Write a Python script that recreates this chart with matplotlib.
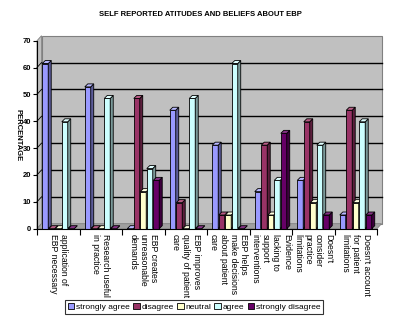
import numpy as np
import matplotlib
matplotlib.use("Agg")
import matplotlib.pyplot as plt
from matplotlib.patches import Polygon, Rectangle, Patch

plt.rcParams['font.family'] = ['Liberation Sans', 'DejaVu Sans']

categories = [
    "application of\nEBP necessary",
    "Research useful\nin practice",
    "EBP creates\nunreasonable\ndemands",
    "EBP improves\nquality of patient\ncare",
    "EBP helps\nmake decisions\nabout patient\ncare",
    "Evidence\nlacking to\nsupport\ninterventions",
    "Doesn't\nconsider\npractice\nlimitations",
    "Doesn't account\nfor patient\nlimitations",
]
series_names = ["strongly agree", "disagree", "neutral", "agree", "strongly disagree"]
strongly_agree = [61.5, 52.8, 0, 44.1, 31.1, 13.8, 18.0, 5.1]
disagree = [0, 0, 48.5, 9.7, 5.1, 31.1, 39.8, 44.1]
neutral = [0, 0, 13.8, 0, 5.1, 5.1, 9.7, 9.7]
agree = [39.8, 48.5, 22.4, 48.5, 61.5, 18.0, 31.1, 39.8]
strongly_disagree = [0, 0, 18.0, 0, 0, 35.5, 5.1, 5.1]
yticks = [0, 10, 20, 30, 40, 50, 60, 70]

series = [strongly_agree, disagree, neutral, agree, strongly_disagree]
front = ["#9999FF", "#993366", "#FFFFCC", "#CCFFFF", "#660066"]
side = ["#5C5C99", "#5C1F3D", "#99997A", "#7A9999", "#3D003D"]
top = ["#B8B8FF", "#B85C85", "#FFFFE0", "#E0FFFF", "#853385"]

fig = plt.figure(figsize=(3.93, 3.30), dpi=100)
W, H = 393, 330
ax = fig.add_axes([37 / W, (H - 228.7) / H, 340 / W, 188 / H])
ax.set_xlim(-0.5, 7.5)
ax.set_ylim(0, 70)
ax.set_facecolor("none")

# depth of walls and bars, converted from pixels to data units
px_x = 8 / 340.0
px_y = 70 / 188.0
wdx, wdy = 4.5 * px_x, 5 * px_y
bdx, bdy = 3 * px_x, 3 * px_y

# back wall, side wall, floor
ax.add_patch(Rectangle((-0.5 + wdx, wdy), 8, 70, facecolor="#C0C0C0",
                       edgecolor="#808080", lw=0.8, clip_on=False, zorder=0))
ax.add_patch(Polygon([(-0.5, 0), (-0.5 + wdx, wdy), (-0.5 + wdx, 70 + wdy), (-0.5, 70)],
                     closed=True, facecolor="#C0C0C0", edgecolor="#808080", lw=0.6,
                     clip_on=False, zorder=0))
ax.add_patch(Polygon([(-0.5, 0), (7.5, 0), (7.5 + wdx, wdy), (-0.5 + wdx, wdy)],
                     closed=True, facecolor="#A0A0A0", edgecolor="#808080", lw=0.6,
                     clip_on=False, zorder=0))
for yv in yticks[1:-1]:
    ax.plot([-0.5 + wdx, 7.5 + wdx], [yv + wdy, yv + wdy], color="black", lw=1.0,
            clip_on=False, zorder=1)
    ax.plot([-0.5, -0.5 + wdx], [yv, yv + wdy], color="black", lw=0.6,
            clip_on=False, zorder=1)

x = np.arange(len(categories))
bw = 0.14
step = 0.153
for i, vals in enumerate(series):
    pos = x - 2 * step + i * step
    ax.bar(pos, vals, width=bw, color=front[i], edgecolor="black", lw=0.6, zorder=3 + i)
    for p, v in zip(pos, vals):
        r = p + bw / 2
        l = p - bw / 2
        ax.add_patch(Polygon([(r, 0), (r + bdx, bdy), (r + bdx, v + bdy), (r, v)],
                             closed=True, facecolor=side[i], edgecolor="black", lw=0.6,
                             zorder=3 + i))
        ax.add_patch(Polygon([(l, v), (l + bdx, v + bdy), (r + bdx, v + bdy), (r, v)],
                             closed=True, facecolor=top[i], edgecolor="black", lw=0.6,
                             zorder=3 + i))

for s in ["top", "right"]:
    ax.spines[s].set_visible(False)
ax.spines["left"].set_linewidth(0.8)
ax.spines["bottom"].set_linewidth(0.8)
ax.spines["left"].set_zorder(10)
ax.spines["bottom"].set_zorder(10)

ax.set_yticks(yticks)
ax.set_yticklabels([str(v) for v in yticks], fontsize=5.5, fontweight="bold")
ax.tick_params(axis="y", length=3, width=0.8, pad=1)

ax.set_xticks(np.arange(-0.5, 8, 1))
ax.set_xticklabels([])
ax.tick_params(axis="x", which="major", length=4, width=0.8)
ax.set_xticks(x, minor=True)
ax.set_xticklabels(categories, minor=True, rotation=270, fontsize=6.2,
                   va="top", ha="center", multialignment="left")
ax.tick_params(axis="x", which="minor", length=0, pad=4)

fig.text(18 / W, 1 - 135 / H, "PERCENTAGE", rotation=270, ha="center", va="center",
         fontsize=5.5, fontweight="bold")

fig.text(200 / W, 1 - 15 / H, "SELF REPORTED ATITUDES AND BELIEFS ABOUT EBP",
         ha="center", va="center", fontsize=5.5, fontweight="bold")

handles = [Patch(facecolor=front[i], edgecolor="black", lw=0.6) for i in range(5)]
leg = fig.legend(handles, series_names, loc="center", bbox_to_anchor=(194 / W, 1 - 307 / H),
                 ncol=5, fontsize=6, frameon=True, fancybox=False, handlelength=0.8,
                 handleheight=0.8, handletextpad=0.2, columnspacing=0.4,
                 borderpad=0.3, borderaxespad=0)
leg.get_frame().set_edgecolor("black")
leg.get_frame().set_linewidth(0.8)

fig.savefig("out.png", dpi=100)
